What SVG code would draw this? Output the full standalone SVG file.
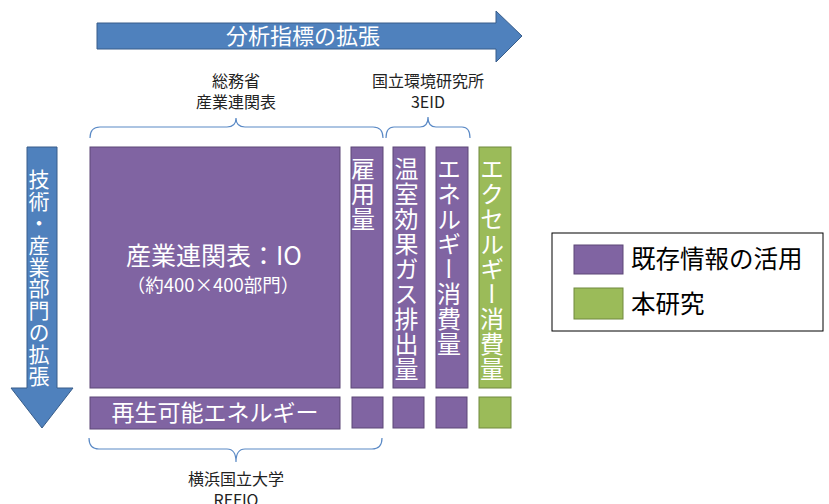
<svg xmlns="http://www.w3.org/2000/svg" width="829" height="504" viewBox="0 0 829 504">
<style>
text{font-family:"Noto Sans CJK JP","Noto Sans",sans-serif}
.pu{fill:#8064A2;stroke:#5C4776;stroke-width:1}
.gr{fill:#9BBB59;stroke:#71893F;stroke-width:1}
.bl{fill:#4F81BD;stroke:#385D8A;stroke-width:1}
.br{fill:none;stroke:#5B8AC6;stroke-width:1.2}
.w{fill:#fff}
.k{fill:#222;font-size:16px;text-anchor:middle}
.v{fill:#fff;font-size:24px;writing-mode:vertical-rl;letter-spacing:1px}
</style>
<rect width="829" height="504" fill="#fff"/>
<g id="arrow-top">
<path class="bl" d="M97,23 H496 V11 L522,36 L496,62 V49 H97 Z"/>
<text x="303" y="44" class="w" font-size="22" text-anchor="middle">分析指標の拡張</text>
</g>
<g id="arrow-left">
<path class="bl" d="M27,147 H57 V388 H73 L42,428 L11,388 H27 Z"/>
<text x="39" y="169" class="w" font-size="21" style="writing-mode:vertical-rl;letter-spacing:0.8px">技術・産業部門の拡張</text>
</g>
<g id="connectors">
<path class="br" d="M90,138 Q90,127 100,127 H227 Q236,127 236,118 Q236,127 245,127 H373 Q383,127 383,138"/>
<path class="br" d="M386,138 Q386,127 394,127 H420 Q428,127 428,117 Q428,127 436,127 H462 Q470,127 470,138"/>
<path class="br" d="M89,438 Q89,449 99,449 H227 Q236,449 236,462 Q236,449 245,449 H372 Q382,449 382,438"/>
</g>
<g id="label-somu">
<text x="236" y="87" class="k">総務省</text>
<text x="236" y="108" class="k">産業連関表</text>
</g>
<g id="label-kokuritsu">
<text x="428" y="87" class="k">国立環境研究所</text>
<text x="428" y="108" class="k">3EID</text>
</g>
<g id="label-yokohama">
<text x="236" y="485" class="k">横浜国立大学</text>
<text x="236" y="506" class="k">REFIO</text>
</g>
<g id="node-io">
<rect class="pu" x="90" y="147" width="250" height="241"/>
<text x="214" y="265" class="w" font-size="25" text-anchor="middle">産業連関表：IO</text>
<text x="213" y="292" class="w" font-size="18.5" text-anchor="middle">（約400×400部門）</text>
</g>
<g id="node-koyo">
<rect class="pu" x="351" y="147" width="32" height="241"/>
<text x="363" y="157" class="v">雇用量</text>
</g>
<g id="node-ghg">
<rect class="pu" x="393" y="147" width="32" height="241"/>
<text x="406.5" y="157" class="v">温室効果ガス排出量</text>
</g>
<g id="node-energy">
<rect class="pu" x="436" y="147" width="32" height="241"/>
<text x="449" y="157" class="v">エネルギー消費量</text>
</g>
<g id="node-exergy">
<rect class="gr" x="479" y="147" width="32" height="241"/>
<text x="492" y="157" class="v">エクセルギー消費量</text>
</g>
<g id="node-renewable">
<rect class="pu" x="90" y="397" width="250" height="32"/>
<text x="215" y="421" class="w" font-size="23" text-anchor="middle">再生可能エネルギー</text>
</g>
<g id="node-r1"><rect class="pu" x="352" y="397" width="31" height="31"/></g>
<g id="node-r2"><rect class="pu" x="393" y="397" width="31" height="31"/></g>
<g id="node-r3"><rect class="pu" x="436" y="397" width="31" height="31"/></g>
<g id="node-r4"><rect class="gr" x="479" y="397" width="32" height="31"/></g>
<g id="legend">
<rect x="552" y="233" width="271" height="98" fill="#fff" stroke="#000" stroke-width="1"/>
<rect class="pu" x="574" y="245" width="49" height="29"/>
<rect class="gr" x="574" y="288" width="49" height="31"/>
<text x="631" y="268" font-size="24.5" fill="#000">既存情報の活用</text>
<text x="631" y="313" font-size="24.5" fill="#000">本研究</text>
</g>
</svg>
